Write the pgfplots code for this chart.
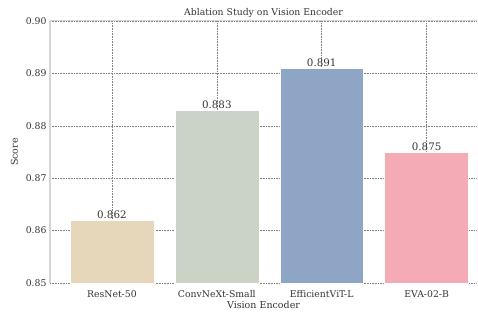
\documentclass[border=0pt]{standalone}
\usepackage{fontspec}
\setmainfont{DejaVu Serif}
\usepackage{pgfplots}
\pgfplotsset{compat=1.18}
\definecolor{cA}{HTML}{E6D6BA}
\definecolor{cB}{HTML}{CBD3C7}
\definecolor{cC}{HTML}{8FA5C6}
\definecolor{cD}{HTML}{F4ABB6}
\definecolor{txt}{HTML}{333333}
\definecolor{spine}{HTML}{D5D5D5}
\begin{document}
\begin{tikzpicture}
\begin{axis}[
  at={(0pt,0pt)}, anchor=south west,
  scale only axis, width=427pt, height=262pt,
  xmin=-0.59, xmax=3.48, ymin=0.85, ymax=0.90,
  ybar, bar width=0.8, 
  xtick={0,1,2,3},
  xticklabels={ResNet-50,ConvNeXt-Small,EfficientViT-L,EVA-02-B},
  ytick={0.85,0.86,0.87,0.88,0.89,0.90},
  yticklabel style={/pgf/number format/.cd,fixed,fixed zerofill,precision=2},
  /pgf/number format/assume math mode=true,
  tick style={draw=none},
  ticklabel style={font=\fontsize{9.3}{11}\selectfont, text=txt},
  xticklabel style={yshift=0pt},
  grid=both, major grid style={dash pattern=on 0.8pt off 0.8pt, draw=black!50, line width=0.5pt},
  axis line style={draw=none},
  title={Ablation Study on Vision Encoder},
  title style={font=\fontsize{9.3}{11}\selectfont, text=txt, yshift=-6pt},
  xlabel={Vision Encoder}, ylabel={Score},
  label style={font=\fontsize{9.5}{11}\selectfont, text=txt},
  xlabel style={yshift=4pt},
  ylabel style={yshift=1pt},
  nodes near coords,
  nodes near coords style={font=\fontsize{10.3}{12}\selectfont, text=txt, yshift=-2pt,
    /pgf/number format/.cd,fixed,fixed zerofill,precision=3,assume math mode=true},
  clip=false,
]
\addplot[fill=cA, draw=white, line width=0.5pt, bar shift=0] coordinates {(0,0.862)};
\addplot[fill=cB, draw=white, line width=0.5pt, bar shift=0] coordinates {(1,0.883)};
\addplot[fill=cC, draw=white, line width=0.5pt, bar shift=0] coordinates {(2,0.891)};
\addplot[fill=cD, draw=white, line width=0.5pt, bar shift=0] coordinates {(3,0.875)};
\end{axis}
\draw[spine, line width=1.2pt] (0,0) -- (0,262pt);
\draw[spine, line width=1pt] (0,262pt) -- (427pt,262pt);
\path[use as bounding box] (-50pt,-29pt) rectangle (428pt,283pt);
\end{tikzpicture}
\end{document}
